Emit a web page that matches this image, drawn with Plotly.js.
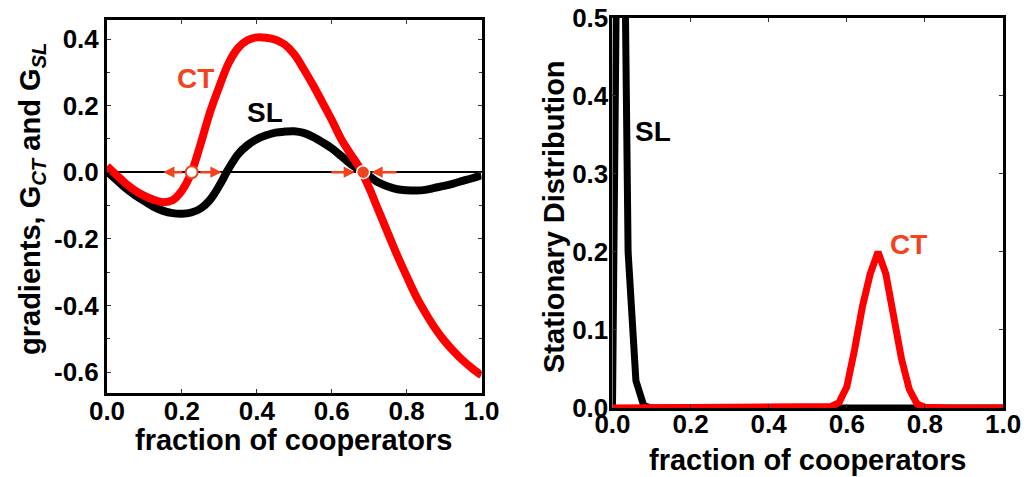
<!DOCTYPE html>
<html>
<head>
<meta charset="utf-8">
<script src="https://cdn.plot.ly/plotly-3.0.1.min.js"></script>
<style>
  html, body { margin: 0; padding: 0; background: #ffffff; }
  #chart { width: 1028px; height: 477px; }
</style>
</head>
<body>
<div id="chart"></div>
<script>
// ---- Left panel: gradients vs fraction of cooperators ----
const gradX  = [0.000, 0.025, 0.050, 0.075, 0.100, 0.125, 0.150, 0.175, 0.200, 0.225,
                0.250, 0.275, 0.300, 0.325, 0.350, 0.375, 0.400, 0.425, 0.450, 0.475,
                0.500, 0.525, 0.550, 0.575, 0.600, 0.625, 0.650, 0.675, 0.700, 0.725,
                0.750, 0.775, 0.800, 0.825, 0.850, 0.875, 0.900, 0.925, 0.950, 0.975, 1.000];
const gradCT = [0.018, -0.008, -0.034, -0.055, -0.071, -0.083, -0.090, -0.084, -0.055, -0.002,
                0.085, 0.180, 0.258, 0.328, 0.373, 0.396, 0.405, 0.404, 0.398, 0.383,
                0.354, 0.310, 0.262, 0.210, 0.157, 0.100, 0.055, 0.012, -0.047, -0.115,
                -0.183, -0.250, -0.312, -0.372, -0.422, -0.467, -0.505, -0.537, -0.565, -0.589, -0.610];
const gradSL = [0.003, -0.023, -0.048, -0.069, -0.087, -0.104, -0.116, -0.123, -0.125, -0.121,
                -0.109, -0.083, -0.040, 0.011, 0.054, 0.081, 0.099, 0.111, 0.119, 0.122,
                0.123, 0.118, 0.106, 0.090, 0.072, 0.049, 0.025, 0.006, -0.012, -0.031,
                -0.043, -0.051, -0.054, -0.055, -0.053, -0.047, -0.041, -0.034, -0.026, -0.018, -0.009];

// fixed points of the CT gradient: unstable and stable
const unstablePoint = 0.226;
const stablePoint   = 0.684;

// ---- Right panel: stationary distribution ----
const distX = [0.00, 0.02, 0.04, 0.06, 0.08, 0.10, 0.12, 0.14, 0.16, 0.18,
               0.20, 0.22, 0.24, 0.26, 0.28, 0.30, 0.32, 0.34, 0.36, 0.38,
               0.40, 0.42, 0.44, 0.46, 0.48, 0.50, 0.52, 0.54, 0.56, 0.58,
               0.60, 0.62, 0.64, 0.66, 0.68, 0.70, 0.72, 0.74, 0.76, 0.78,
               0.80, 0.82, 0.84, 0.86, 0.88, 0.90, 0.92, 0.94, 0.96, 0.98, 1.00];
const distSL = [0.000, 1.100, 0.200, 0.035, 0.003, 0, 0, 0, 0, 0,
                0, 0, 0, 0, 0, 0, 0, 0, 0, 0,
                0, 0, 0, 0, 0, 0, 0, 0, 0, 0,
                0, 0, 0, 0, 0, 0, 0, 0, 0, 0,
                0, 0, 0, 0, 0, 0, 0, 0, 0, 0, 0];
const distCT = [0, 0, 0, 0, 0, 0, 0, 0, 0, 0,
                0, 0, 0, 0, 0, 0, 0, 0, 0, 0,
                0, 0, 0, 0, 0, 0, 0, 0.000, 0.002, 0.007,
                0.027, 0.075, 0.130, 0.172, 0.200, 0.172, 0.118, 0.063, 0.024, 0.005,
                0.001, 0, 0, 0, 0, 0, 0, 0, 0, 0, 0];

const xTickVals = [0, 0.2, 0.4, 0.6, 0.8, 1.0];
const xTickText = ['0.0', '0.2', '0.4', '0.6', '0.8', '1.0'];
const leftYTickVals = [-0.6, -0.4, -0.2, 0.0, 0.2, 0.4];
const leftYTickText = ['-0.6', '-0.4', '-0.2', '0.0', '0.2', '0.4'];
const rightYTickVals = [0.0, 0.1, 0.2, 0.3, 0.4, 0.5];
const rightYTickText = ['0.0', '0.1', '0.2', '0.3', '0.4', '0.5'];

const RED = '#ff0000';
const ORANGE_RED = '#f2431f';
const FONT = 'Liberation Sans, Arial, Helvetica, sans-serif';

const tickFont = {family: FONT, size: 26, color: '#000', weight: 'bold'};
const titleFont = {family: FONT, size: 29, color: '#000', weight: 'bold'};

const traces = [
  {x: gradX, y: gradSL, xaxis: 'x', yaxis: 'y', type: 'scatter', mode: 'lines',
   line: {color: '#000', width: 8, shape: 'spline', smoothing: 1}, hoverinfo: 'skip'},
  {x: gradX, y: gradCT, xaxis: 'x', yaxis: 'y', type: 'scatter', mode: 'lines',
   line: {color: RED, width: 8, shape: 'spline', smoothing: 1}, hoverinfo: 'skip'},
  {x: [unstablePoint], y: [0], xaxis: 'x', yaxis: 'y', type: 'scatter', mode: 'markers',
   marker: {size: 12, color: '#ffffff', line: {color: ORANGE_RED, width: 2}}, hoverinfo: 'skip'},
  {x: [stablePoint], y: [0], xaxis: 'x', yaxis: 'y', type: 'scatter', mode: 'markers',
   marker: {size: 13, color: ORANGE_RED, line: {color: '#ffffff', width: 1.5}}, hoverinfo: 'skip'},
  {x: distX, y: distSL, xaxis: 'x2', yaxis: 'y2', type: 'scatter', mode: 'lines',
   line: {color: '#000', width: 7}, hoverinfo: 'skip'},
  {x: distX, y: distCT, xaxis: 'x2', yaxis: 'y2', type: 'scatter', mode: 'lines',
   line: {color: RED, width: 7}, hoverinfo: 'skip'}
];

function arrow(xTip, xTail) {
  return {x: xTip, y: 0, ax: xTail, ay: 0, xref: 'x', yref: 'y', axref: 'x', ayref: 'y',
          text: '', showarrow: true, arrowhead: 2, arrowsize: 0.9, arrowwidth: 2.5,
          arrowcolor: ORANGE_RED, standoff: 0, startstandoff: 0};
}

const annotations = [
  arrow(0.150, unstablePoint - 0.021),
  arrow(0.306, unstablePoint + 0.019),
  arrow(stablePoint - 0.022, 0.595),
  arrow(stablePoint + 0.022, 0.777),
  {x: 0.237, y: 0.281, xref: 'x', yref: 'y', text: 'CT', showarrow: false,
   font: {family: FONT, size: 28, color: ORANGE_RED, weight: 'bold'}},
  {x: 0.421, y: 0.179, xref: 'x', yref: 'y', text: 'SL', showarrow: false,
   font: {family: FONT, size: 28, color: '#000', weight: 'bold'}},
  {x: 0.105, y: 0.354, xref: 'x2', yref: 'y2', text: 'SL', showarrow: false,
   font: {family: FONT, size: 28, color: '#000', weight: 'bold'}},
  {x: 0.759, y: 0.210, xref: 'x2', yref: 'y2', text: 'CT', showarrow: false,
   font: {family: FONT, size: 28, color: ORANGE_RED, weight: 'bold'}},
  // axis titles
  {x: 293 / 1028, y: 1 - 440 / 477, xref: 'paper', yref: 'paper', xanchor: 'center', yanchor: 'middle',
   text: 'fraction of cooperators', showarrow: false, font: titleFont},
  {x: 807 / 1028, y: 1 - 460 / 477, xref: 'paper', yref: 'paper', xanchor: 'center', yanchor: 'middle',
   text: 'fraction of cooperators', showarrow: false, font: titleFont},
  {x: 32 / 1028, y: 1 - 199 / 477, xref: 'paper', yref: 'paper', xanchor: 'center', yanchor: 'middle',
   textangle: -90, text: 'gradients, G<sub><i>CT</i></sub> and G<sub><i>SL</i></sub>',
   showarrow: false, font: titleFont},
  {x: 554 / 1028, y: 1 - 217 / 477, xref: 'paper', yref: 'paper', xanchor: 'center', yanchor: 'middle',
   textangle: -90, text: 'Stationary Distribution', showarrow: false, font: titleFont}
];

const axisCommon = {
  showline: true, linecolor: '#000', linewidth: 3, mirror: 'ticks',
  ticks: 'inside', ticklen: 4, tickwidth: 1, tickcolor: '#333',
  showgrid: false, zeroline: false, tickfont: tickFont, fixedrange: true
};

const layout = {
  width: 1028, height: 477,
  margin: {l: 0, r: 0, t: 0, b: 0},
  paper_bgcolor: '#ffffff', plot_bgcolor: '#ffffff',
  showlegend: false,
  font: {family: FONT, color: '#000'},
  xaxis: Object.assign({}, axisCommon, {
    domain: [0.1041, 0.4684], range: [0, 1], tickvals: xTickVals, ticktext: xTickText,
    anchor: 'y', ticklabelstandoff: -7
  }),
  yaxis: Object.assign({}, axisCommon, {
    domain: [0.1761, 0.958], range: [-0.663, 0.457], tickvals: leftYTickVals, ticktext: leftYTickText,
    anchor: 'x', zeroline: true, zerolinecolor: '#000', zerolinewidth: 2,
    minor: {ticks: 'inside', ticklen: 3, dtick: 0.1, tickcolor: '#333'}
  }),
  xaxis2: Object.assign({}, axisCommon, {
    domain: [0.5958, 0.9757], range: [0, 1], tickvals: xTickVals, ticktext: xTickText,
    anchor: 'y2', ticklabelstandoff: -9
  }),
  yaxis2: Object.assign({}, axisCommon, {
    domain: [0.1447, 0.9623], range: [0, 0.5], tickvals: rightYTickVals, ticktext: rightYTickText,
    anchor: 'x2', ticklabelstandoff: -4
  }),
  annotations: annotations
};

Plotly.newPlot('chart', traces, layout, {displayModeBar: false, staticPlot: true});
</script>
</body>
</html>
